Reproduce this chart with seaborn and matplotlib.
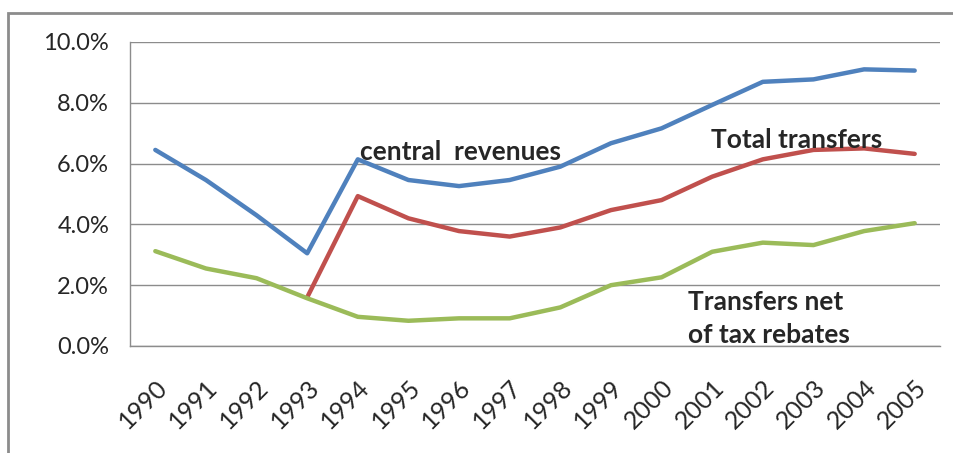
import numpy as np
import pandas as pd
import matplotlib.pyplot as plt
import matplotlib.transforms as mtransforms
import seaborn as sns
from matplotlib.patches import Rectangle

# Данные графика (доля, %)
years = [str(y) for y in range(1990, 2006)]
central_revenues = [6.45, 5.46, 4.30, 3.05, 6.14, 5.46, 5.26, 5.46,
                    5.90, 6.67, 7.16, 7.93, 8.69, 8.77, 9.10, 9.06]
total_transfers = [np.nan, np.nan, np.nan, 1.60, 4.93, 4.20, 3.78, 3.60,
                   3.90, 4.47, 4.80, 5.57, 6.14, 6.45, 6.50, 6.32]
transfers_net = [3.12, 2.55, 2.23, 1.57, 0.96, 0.83, 0.91, 0.91,
                 1.27, 2.00, 2.26, 3.10, 3.40, 3.32, 3.78, 4.04]

colors = {"central": "#4F81BD", "total": "#C0504D", "net": "#9BBB59"}

df = pd.DataFrame({"pos": np.arange(len(years)),
                   "central": central_revenues,
                   "total": total_transfers,
                   "net": transfers_net})

sns.set_style("white")
plt.rcParams['font.family'] = ['Lato', 'DejaVu Sans']

fig = plt.figure(figsize=(9.54, 4.53), dpi=100)
ax = fig.add_axes([130/954, 1-346/453, 810/954, 304/453])

# Рамка вокруг графика
fig.patches.append(Rectangle((8/954, -0.1), 1.2, 1-13/453+0.1,
                             transform=fig.transFigure, fill=False,
                             edgecolor="#8c8c8c", linewidth=2))

for col in ["central", "total", "net"]:
    sns.lineplot(data=df.dropna(subset=[col]), x="pos", y=col, ax=ax,
                 color=colors[col], linewidth=3.2, legend=False)

ax.set_xlim(-0.5, len(years) - 0.5)
ax.set_ylim(0, 10)
ax.set_yticks(np.arange(0, 10.1, 2))
ax.set_yticklabels([f"{v:.1f}%" for v in np.arange(0, 10.1, 2)], fontsize=17)
ax.yaxis.grid(True, color="#8c8c8c", linewidth=1)
ax.set_axisbelow(True)

# Деления между категориями, подписи по центру
ax.set_xticks(np.arange(-0.5, len(years), 1))
ax.set_xticklabels([])
ax.set_xticks(np.arange(len(years)), minor=True)
ax.set_xticklabels(years, minor=True, rotation=45, ha="right",
                   rotation_mode="anchor", fontsize=18)
shift = mtransforms.ScaledTranslation(7/100, 0, fig.dpi_scale_trans)
for lbl in ax.get_xticklabels(minor=True):
    lbl.set_transform(lbl.get_transform() + shift)
ax.tick_params(axis="x", which="major", length=6, color="#8c8c8c", width=1)
ax.tick_params(axis="x", which="minor", length=0, pad=21)
ax.tick_params(axis="y", length=7, color="#8c8c8c", width=1, pad=8)
ax.set_xlabel("")
ax.set_ylabel("")

for s in ["top", "right"]:
    ax.spines[s].set_visible(False)
for s in ["left", "bottom"]:
    ax.spines[s].set_color("#8c8c8c")
    ax.spines[s].set_linewidth(1)

ax.text(4.05, 6.38, "central  revenues", fontsize=19, fontweight="bold",
        va="center", ha="left")
ax.text(10.98, 6.78, "Total transfers", fontsize=19, fontweight="bold",
        va="center", ha="left")
ax.text(10.52, 0.92, "Transfers net\nof tax rebates", fontsize=19,
        fontweight="bold", va="center", ha="left", linespacing=1.45)

fig.savefig("out.png", dpi=100)
